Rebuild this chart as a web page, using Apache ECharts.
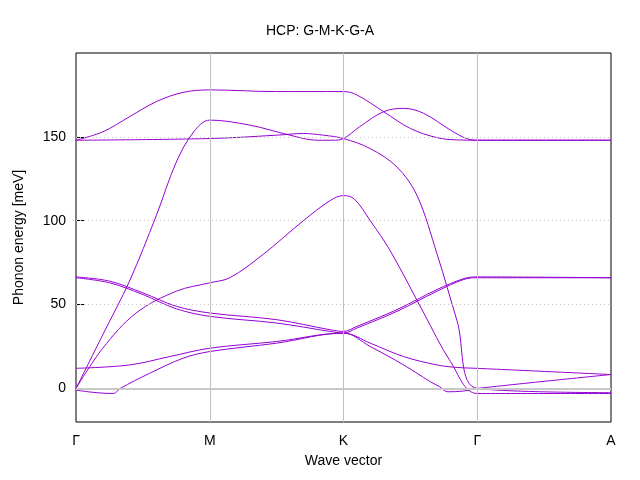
<!DOCTYPE html>
<html><head><meta charset="utf-8">
<script src="https://cdn.jsdelivr.net/npm/echarts@6/dist/echarts.min.js"></script>
<style>html,body{margin:0;padding:0;background:#fff}#c{width:640px;height:480px}</style>
</head><body><div id="c"></div>
<script>
const tickPos = [0, 1, 2, 3, 4];
const tickNames = ['Γ', 'M', 'K', 'Γ', 'A'];
const yTicks = [0, 50, 100, 150];
// bands: [x, energy] with Γ=0, M=1, K=2, Γ=3, A=4
const band1 = [[0,148],[0.2,153],[0.4,162],[0.6,171],[0.8,176.5],[1,178],[1.5,177],[2,177],[2.1,175],[2.3,165],[2.5,155],[2.7,149.5],[2.85,148.2],[3,148],[4,148]];
const band2 = [[0,148],[1,149],[1.5,151],[1.7,152],[1.85,151],[2,149],[2.2,143],[2.4,132],[2.55,115],[2.7,80],[2.85,40],[3,0],[4,-2.5]];
const band3 = [[0,0],[0.2,32],[0.4,64],[0.6,103],[0.75,135],[0.88,153],[1,160],[1.3,157],[1.6,151],[1.8,148],[1.92,148],[2,149],[2.12,156],[2.3,165],[2.45,167],[2.6,164],[2.8,154],[2.92,149],[3,148],[4,148]];
const band4 = [[0,0],[0.2,24],[0.45,45],[0.75,58],[1,63],[1.15,66],[1.4,80],[1.7,100],[1.9,112],[2,115],[2.08,113],[2.2,100],[2.35,82],[2.6,45],[2.8,16],[3,-3],[4,-3]];
const band5 = [[0,66.5],[0.25,64],[0.5,57],[0.75,49],[1,45],[1.5,41],[1.9,35],[2,34],[2.1,37],[2.4,47],[2.7,59],[2.9,65.5],[3,66.5],[4,66]];
const band6 = [[0,66],[0.25,63],[0.5,56],[0.75,47.5],[1,43],[1.5,39],[1.9,34],[2,33],[2.1,36],[2.4,46],[2.7,58],[2.9,65],[3,66],[4,66]];
const band7 = [[0,12],[0.4,14],[0.7,19],[1,24],[1.5,28],[2,33],[2.2,27],[2.45,19],[2.7,14],[2.85,12.5],[3,12],[4,8.3]];
const band8 = [[0,-1],[0.15,-2.5],[0.28,-3],[0.33,0],[0.55,9],[0.8,18],[1,22],[1.5,27],[2,33],[2.2,25],[2.45,14],[2.65,4],[2.72,1],[2.78,-2],[2.9,-1.5],[3,0],[4,8.3]];
const bands = [band1, band2, band3, band4, band5, band6, band7, band8];
const chart = echarts.init(document.getElementById('c'));
const font = 'Liberation Sans, Arial, sans-serif';
const series = bands.map((b) => ({
  type: 'line', data: b, smooth: 0.35, showSymbol: false,
  lineStyle: { color: '#9400D3', width: 1 }, silent: true
}));
series.unshift({
  type: 'line', data: [], silent: true,
  markLine: { symbol: 'none', silent: true, label: { show: false },
    data: [
      { xAxis: 1, lineStyle: { color: '#c0c0c0', type: 'solid', width: 1 } },
      { xAxis: 2, lineStyle: { color: '#c0c0c0', type: 'solid', width: 1 } },
      { xAxis: 3, lineStyle: { color: '#c0c0c0', type: 'solid', width: 1 } },
      { yAxis: 50, lineStyle: { color: '#c8c8c8', type: [1, 3], width: 1 } },
      { yAxis: 100, lineStyle: { color: '#c8c8c8', type: [1, 3], width: 1 } },
      { yAxis: 150, lineStyle: { color: '#c8c8c8', type: [1, 3], width: 1 } },
      { yAxis: 0, lineStyle: { color: '#c8c8c8', type: 'solid', width: 2 } }
    ] }
});
chart.setOption({
  animation: false,
  title: { text: 'HCP: G-M-K-G-A', left: 'center', top: 19,
    textStyle: { fontFamily: font, fontSize: 14, fontWeight: 'normal', color: '#000' } },
  grid: { left: 76, right: 29, top: 53, bottom: 58, show: true, borderColor: '#000', borderWidth: 1 },
  xAxis: { type: 'value', min: 0, max: 4, name: 'Wave vector', nameLocation: 'middle', nameGap: 32,
    nameTextStyle: { fontFamily: font, fontSize: 14, color: '#000' },
    axisLine: { show: false }, splitLine: { show: false },
    axisTick: { show: false },
    axisLabel: { customValues: tickPos, formatter: v => tickNames[tickPos.indexOf(v)] ?? '',
      fontFamily: font, fontSize: 14, color: '#000', margin: 12 } },
  yAxis: { type: 'value', min: -20, max: 200, name: 'Phonon energy [meV]', nameLocation: 'middle', nameGap: 50,
    nameTextStyle: { fontFamily: font, fontSize: 14, color: '#000' },
    axisLine: { show: false }, splitLine: { show: false },
    axisTick: { show: true, customValues: yTicks, inside: true, length: 8, lineStyle: { color: '#000' } },
    axisLabel: { customValues: yTicks, fontFamily: font, fontSize: 14, color: '#000', margin: 10 } },
  series
});
</script></body></html>
